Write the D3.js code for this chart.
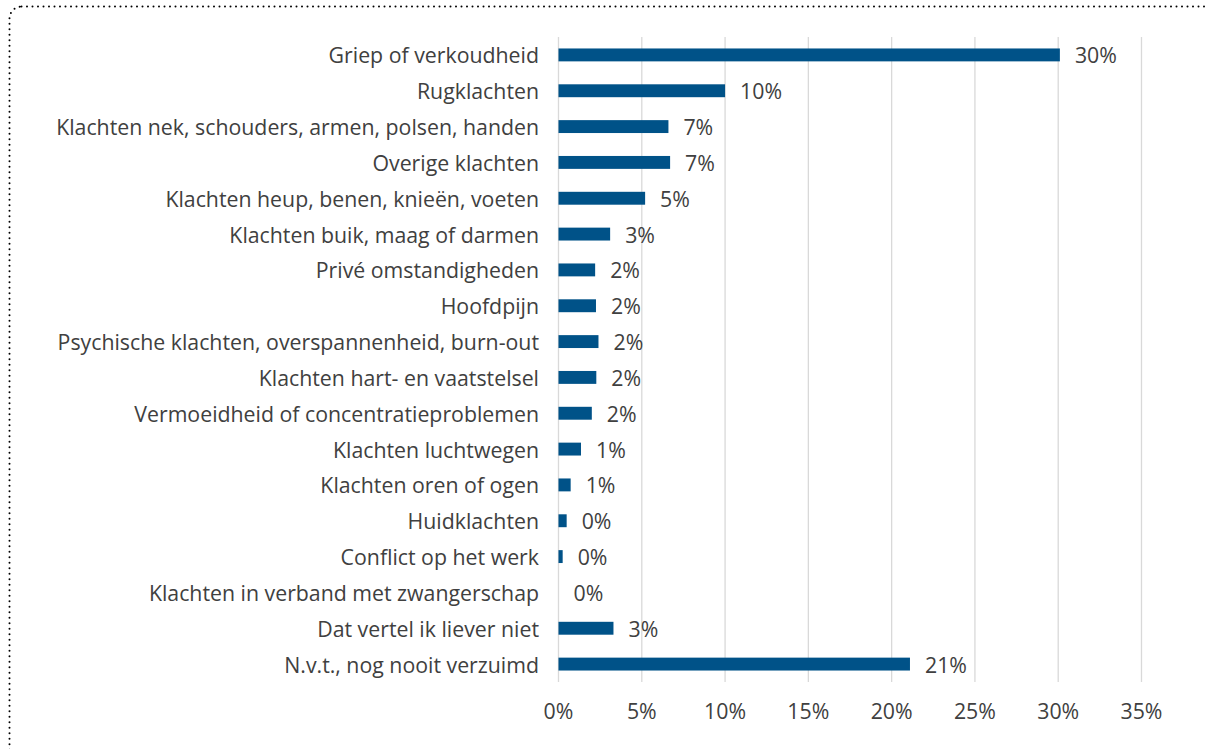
<!DOCTYPE html>
<html><head><meta charset="utf-8">
<script src="https://cdn.jsdelivr.net/npm/d3@7"></script>
<style>body{margin:0;background:#fff;}svg{display:block;font-family:"Open Sans",sans-serif;}</style>
</head><body><svg id="c" width="1206" height="749"></svg>
<script>
const categories = ["Griep of verkoudheid","Rugklachten","Klachten nek, schouders, armen, polsen, handen","Overige klachten","Klachten heup, benen, knieën, voeten","Klachten buik, maag of darmen","Privé omstandigheden","Hoofdpijn","Psychische klachten, overspannenheid, burn-out","Klachten hart- en vaatstelsel","Vermoeidheid of concentratieproblemen","Klachten luchtwegen","Klachten oren of ogen","Huidklachten","Conflict op het werk","Klachten in verband met zwangerschap","Dat vertel ik liever niet","N.v.t., nog nooit verzuimd"];
const values = [30.1,10.0,6.6,6.7,5.2,3.1,2.2,2.25,2.4,2.27,2.0,1.35,0.73,0.49,0.25,0,3.3,21.1];
const tickValues = [0,5,10,15,20,25,30,35];

const svg = d3.select("#c");
svg.append("rect").attr("x",9.5).attr("y",6.5).attr("width",1215).attr("height",760).attr("rx",12)
  .attr("fill","none").attr("stroke","#000").attr("stroke-width",2).attr("stroke-dasharray","0 5.5").attr("stroke-linecap","round");

const x = d3.scaleLinear().domain([0,35]).range([558.5,1141.5]);
const y = d3.scaleBand().domain(categories).range([37,682]).paddingInner(0.64).paddingOuter(0.32);
const fs = 21.3;

svg.append("g").selectAll("line").data(tickValues).join("line")
  .attr("x1",d=>x(d)).attr("x2",d=>x(d)).attr("y1",37).attr("y2",682)
  .attr("stroke","#d9d9d9").attr("stroke-width",1.3);

svg.append("g").selectAll("text").data(tickValues).join("text")
  .attr("x",d=>x(d)).attr("y",719).attr("text-anchor","middle")
  .attr("font-size",fs).attr("fill","#404040").text(d=>d+"%");

svg.append("g").selectAll("rect").data(values).join("rect")
  .attr("x",x(0)).attr("y",(d,i)=>y(categories[i]))
  .attr("width",d=>x(d)-x(0)).attr("height",y.bandwidth())
  .attr("fill","#005288");

svg.append("g").selectAll("text").data(categories).join("text")
  .attr("x",539).attr("y",d=>y(d)+y.bandwidth()/2+1).attr("dy","0.35em")
  .attr("text-anchor","end").attr("font-size",fs).attr("fill","#404040").text(d=>d);

svg.append("g").selectAll("text").data(values).join("text")
  .attr("x",d=>x(d)+15).attr("y",(d,i)=>y(categories[i])+y.bandwidth()/2+1).attr("dy","0.35em")
  .attr("font-size",fs).attr("fill","#404040").text(d=>Math.round(d)+"%");
</script></body></html>
